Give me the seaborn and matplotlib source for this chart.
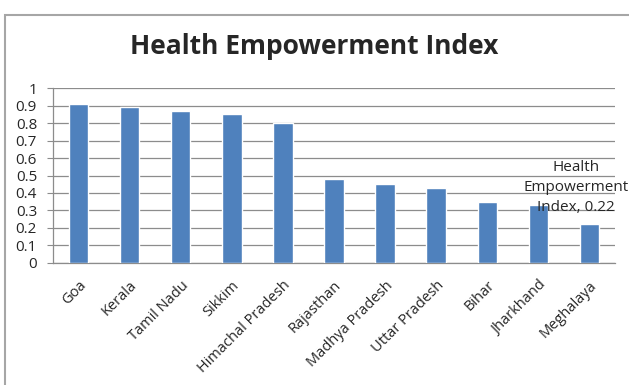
import matplotlib
matplotlib.use("Agg")
import matplotlib.pyplot as plt
import seaborn as sns
import pandas as pd
from matplotlib.patches import Rectangle

states = ["Goa", "Kerala", "Tamil Nadu", "Sikkim", "Himachal Pradesh", "Rajasthan",
          "Madhya Pradesh", "Uttar Pradesh", "Bihar", "Jharkhand", "Meghalaya"]
index_values = [0.91, 0.89, 0.87, 0.85, 0.80, 0.48, 0.45, 0.43, 0.35, 0.33, 0.22]
y_ticks = [0, 0.1, 0.2, 0.3, 0.4, 0.5, 0.6, 0.7, 0.8, 0.9, 1]
y_tick_labels = ["0", "0.1", "0.2", "0.3", "0.4", "0.5", "0.6", "0.7", "0.8", "0.9", "1"]
series_name = "Health Empowerment Index"

sns.set_style("white")
plt.rcParams["font.family"] = ["Open Sans", "DejaVu Sans"]

df = pd.DataFrame({"State": states, "Index": index_values})

fig = plt.figure(figsize=(6.29, 3.85), dpi=100)
ax = fig.add_axes([53 / 629, 1 - 262.7 / 385, (615 - 53) / 629, (262.7 - 88.3) / 385])

sns.barplot(data=df, x="State", y="Index", color="#4F81BD", width=0.38,
            saturation=1, ax=ax, zorder=3)

ax.set_ylim(0, 1)
ax.set_xlim(-0.5, len(states) - 0.5)
ax.set_yticks(y_ticks)
ax.set_yticklabels(y_tick_labels, fontsize=11)
ax.yaxis.grid(True, color="#8C8C8C", linewidth=0.9, zorder=0)
ax.set_axisbelow(True)
ax.set_xlabel("")
ax.set_ylabel("")
ax.set_xticks(range(len(states)))
ax.set_xticklabels(states, rotation=45, ha="right", rotation_mode="anchor", fontsize=10.5)
ax.tick_params(axis="x", length=0, pad=11)
ax.tick_params(axis="y", length=4, width=0.8, color="#8C8C8C", pad=7.5, left=True)
for side in ["top", "right"]:
    ax.spines[side].set_visible(False)
for side in ["left", "bottom"]:
    ax.spines[side].set_color("#8C8C8C")
    ax.spines[side].set_linewidth(0.9)

# data label on the last bar
last = len(states) - 1
ax.text(last - 0.27, index_values[last] + 0.055,
        f"Health\nEmpowerment\nIndex, {index_values[last]:.2f}",
        ha="center", va="bottom", fontsize=11, linespacing=1.45, zorder=4)

fig.text(0.5, 1 - 47 / 385, series_name, ha="center", va="center",
         fontsize=19, fontweight="bold")

# chart frame
fig.patches.append(Rectangle((4.5 / 629, -0.05), 1.1, 1 - 14.5 / 385 + 0.05,
                             transform=fig.transFigure, fill=False,
                             edgecolor="#A6A6A6", linewidth=1.5))

fig.savefig("out.png", dpi=100)
